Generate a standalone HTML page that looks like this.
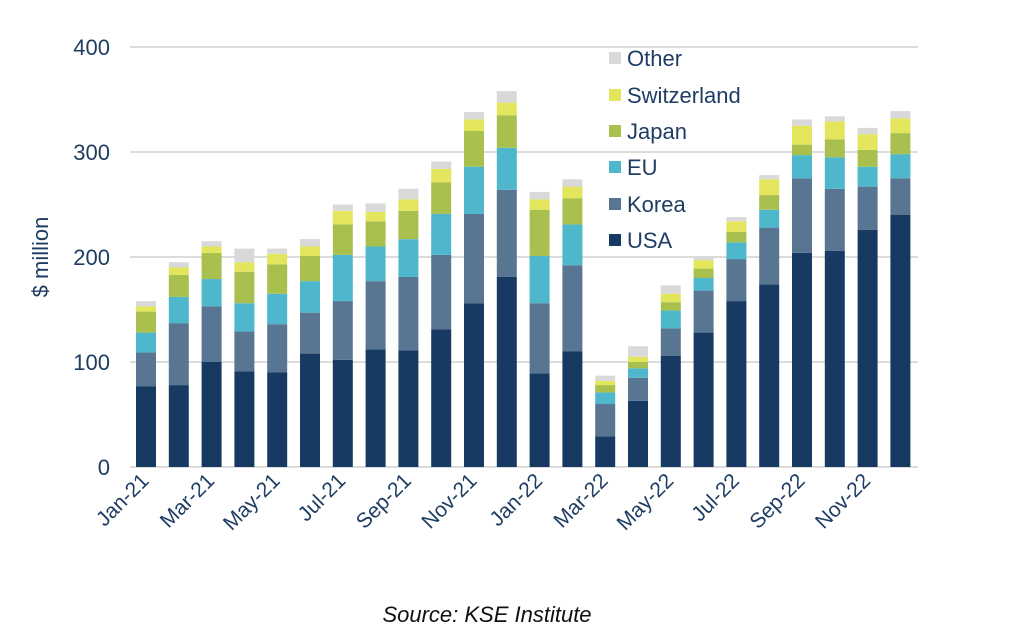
<!DOCTYPE html>
<html><head><meta charset="utf-8"><style>
body{margin:0;background:#fff;}
svg{display:block;font-family:"Liberation Sans",Arial,sans-serif;}
</style></head><body>
<svg width="1024" height="634" viewBox="0 0 1024 634">
<g id="grid"></g>
<g id="bars"></g>
<g id="yt"></g>
<g id="xt"></g>
<g id="leg"></g>
<text x="-257" y="48" transform="rotate(-90)" text-anchor="middle" font-size="22" fill="#1f3d63">$ million</text>
<text x="487" y="622" text-anchor="middle" font-size="22" font-style="italic" fill="#111">Source: KSE Institute</text>
</svg>
<script>
const categories=["Jan-21","Feb-21","Mar-21","Apr-21","May-21","Jun-21","Jul-21","Aug-21","Sep-21","Oct-21","Nov-21","Dec-21","Jan-22","Feb-22","Mar-22","Apr-22","May-22","Jun-22","Jul-22","Aug-22","Sep-22","Oct-22","Nov-22","Dec-22"];
const usa=[77,78,100,91,90,108,102,112,111,131,156,181,89,110,29,63,106,128,158,174,204,206,226,240];
const korea=[32,59,53,38,46,39,56,65,70,71,85,83,67,82,31,22,26,40,40,54,71,59,41,35];
const eu=[19,25,26,27,29,30,44,33,36,39,45,40,45,39,11,9,17,12,16,17,22,30,19,23];
const japan=[20,21,25,30,28,24,29,24,27,30,34,31,44,25,7,6,8,9,10,14,10,17,16,20];
const switzerland=[5,7,6,9,10,9,13,9,11,13,11,12,10,11,4,5,8,8,10,15,18,17,15,14];
const other=[5,5,5,13,5,7,6,8,10,7,7,11,7,7,5,10,8,3,4,4,6,5,6,7];
const yTicks=[0,100,200,300,400];
const seriesNames=["USA","Korea","EU","Japan","Switzerland","Other"];
const series=[usa,korea,eu,japan,switzerland,other];
const colors=["#173a63","#587592","#4fb7cc","#a9c04f","#e3e65c","#d9d9d9"];
const NS="http://www.w3.org/2000/svg";
const y=v=>467-v*1.05;
const x=i=>146+i*32.8;
function mk(tag,attrs,parent){const e=document.createElementNS(NS,tag);for(const k in attrs)e.setAttribute(k,attrs[k]);parent.appendChild(e);return e;}
const grid=document.getElementById('grid'),bars=document.getElementById('bars'),yt=document.getElementById('yt'),xt=document.getElementById('xt'),leg=document.getElementById('leg');
yTicks.forEach(t=>{
 const l=mk('line',{x1:130,x2:918,y1:y(t),y2:y(t),stroke:'#d0d0d0','stroke-width':1.5},grid);
 
 
 const tx=mk('text',{x:110,y:y(t)+8,'text-anchor':'end','font-size':22,fill:'#1f3d63'},yt);
 tx.textContent=t;
 
 
});
categories.forEach((c,i)=>{
 let base=0;
 series.forEach((s,k)=>{
  const r=mk('rect',{x:x(i)-10,width:20,y:y(base+s[i]),height:s[i]*1.05,fill:colors[k]},bars);
  
  
  base+=s[i];
 });
 if(i%2===0){
  const tx=mk('text',{x:x(i)+4,y:482,'text-anchor':'end','font-size':21,fill:'#1f3d63',transform:`rotate(-45 ${x(i)+4} 482)`},xt);
  tx.textContent=c;
  
  
 }
});
const ly=[58,95,131,167,204,240];
for(let k=5;k>=0;k--){
 const row=5-k;
 const g=mk('g',{},leg);
 
 
 mk('rect',{x:609,y:ly[row]-6,width:12,height:12,fill:colors[k]},g);
 const t=mk('text',{x:627,y:ly[row]+8,'font-size':22,fill:'#1f3d63'},g);
 t.textContent=seriesNames[k];
}
</script>
</body></html>
